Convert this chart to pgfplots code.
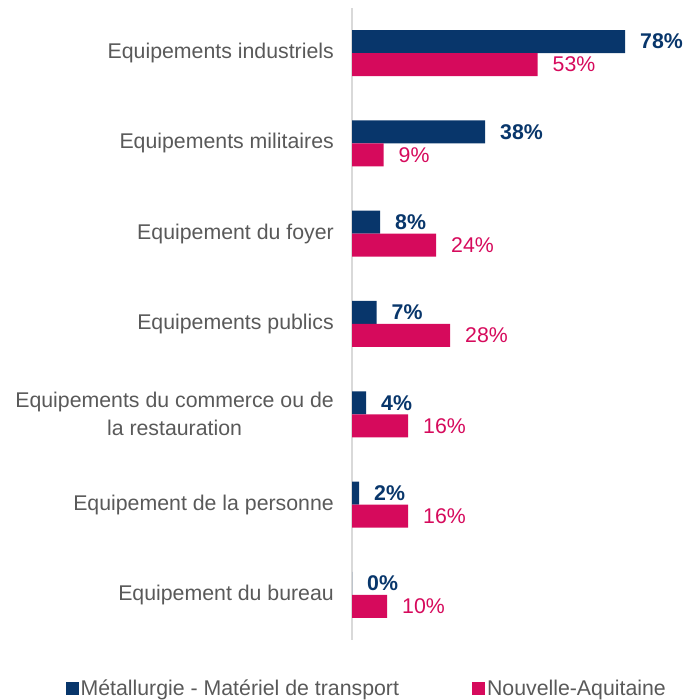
\documentclass[border=0pt]{standalone}
\usepackage{pgfplots}
\pgfplotsset{compat=1.18}
\usepackage{fontspec}
\setmainfont{Liberation Sans}
\definecolor{navy}{HTML}{08366B}
\definecolor{magenta}{HTML}{D60A5C}
\definecolor{txtgray}{HTML}{595959}
\definecolor{axgray}{HTML}{D9D9D9}
\begin{document}
\begin{tikzpicture}[x=1pt,y=1pt]
\useasboundingbox (0,0) rectangle (687,700);
\begin{axis}[
  at={(352pt,60pt)}, anchor=south west,
  scale only axis,
  width=332.5pt, height=632pt,
  xmin=0, xmax=95,
  ymin=-0.5, ymax=6.5,
  xbar, bar width=23pt,
  axis x line=none,
  axis y line*=left,
  y axis line style={draw=axgray, line width=2pt},
  major tick length=0pt,
  ytick={0,...,6},
  yticklabels={Equipement du bureau, Equipement de la personne, {Equipements du commerce ou de\\la restauration}, Equipements publics, Equipement du foyer, Equipements militaires, Equipements industriels},
  yticklabel style={font=\fontsize{21.3}{28}\selectfont, text=txtgray, align=center, inner sep=0pt, xshift=-18pt},
  /pgf/number format/assume math mode=true,
  nodes near coords={\pgfmathprintnumber{\pgfplotspointmeta}\%},
  nodes near coords align={horizontal},
  every node near coord/.append style={font=\fontsize{21.3}{25}\selectfont, anchor=west, inner sep=0pt, xshift=15pt},
  clip=false,
  legend style={at={(axis description cs:-0.862,-0.076)}, anchor=west, draw=none, fill=none,
    legend columns=2, font=\fontsize{21.3}{25}\selectfont, text=txtgray, inner sep=0pt,
    nodes={inner sep=2pt},
    /tikz/every even column/.append style={column sep=71pt}},
  legend image code/.code={\fill[#1] (0pt,-6.5pt) rectangle (13pt,6.5pt);},
]
\addplot[fill=navy, draw=none, bar shift=11.5pt,
  every node near coord/.append style={text=navy, font=\fontsize{21.3}{25}\selectfont\bfseries}]
  coordinates {(0,0) (2,1) (4,2) (7,3) (8,4) (38,5) (78,6)};
\addlegendentry{Métallurgie - Matériel de transport}
\addplot[fill=magenta, draw=none, bar shift=-11.5pt,
  every node near coord/.append style={text=magenta}]
  coordinates {(10,0) (16,1) (16,2) (28,3) (24,4) (9,5) (53,6)};
\addlegendentry{Nouvelle-Aquitaine}
\end{axis}
\end{tikzpicture}
\end{document}
